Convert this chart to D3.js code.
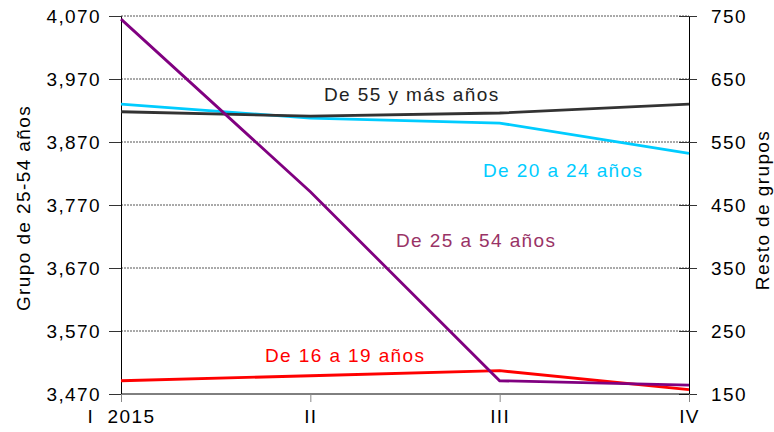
<!DOCTYPE html>
<html><head><meta charset="utf-8">
<script src="https://cdn.jsdelivr.net/npm/d3@7"></script>
<style>
body{margin:0;background:#fff;}
text{font-family:"Liberation Sans",Arial,sans-serif;}
</style></head>
<body><svg id="c" width="774" height="432"></svg>
<script>
const categories = ["I  2015","II","III","IV"];
const leftTicks = [3470,3570,3670,3770,3870,3970,4070];
const rightTicks = [150,250,350,450,550,650,750];
const s25_54 = [4065,3791,3491,3484];
const s55 = [598,591,596,610];
const s20_24 = [610,588,580,532];
const s16_19 = [171,179,187,157];

const svg = d3.select("#c");
const m = {l:121, r:689, t:16, b:394};
const x = d3.scalePoint().domain(categories).range([m.l, m.r]);
const yL = d3.scaleLinear().domain([3470,4070]).range([m.b, m.t]);
const yR = d3.scaleLinear().domain([150,750]).range([m.b, m.t]);
const fs = 19, ls = "1.4px";

// grid
svg.append("g").selectAll("line").data(leftTicks.slice(1)).join("line")
  .attr("x1", m.l).attr("x2", m.r).attr("y1", d=>yL(d)).attr("y2", d=>yL(d))
  .attr("stroke","#555").attr("stroke-width",1).attr("stroke-dasharray","2,1");

// left axis
const gL = svg.append("g").attr("transform",`translate(${m.l},0)`)
  .call(d3.axisLeft(yL).tickValues(leftTicks).tickFormat(d3.format(",")).tickSize(12).tickPadding(8));
gL.selectAll("text").attr("font-size",fs).attr("letter-spacing",ls).attr("fill","#000").attr("font-family","Liberation Sans, Arial, sans-serif");
gL.select(".domain").attr("stroke","#000");
gL.selectAll(".tick line").attr("stroke","#333");

// right axis
const gR = svg.append("g").attr("transform",`translate(${m.r},0)`)
  .call(d3.axisRight(yR).tickValues(rightTicks).tickSize(8).tickPadding(14));
gR.selectAll("text").attr("font-size",fs).attr("letter-spacing",ls).attr("fill","#000").attr("font-family","Liberation Sans, Arial, sans-serif");
gR.select(".domain").attr("stroke","#000");
gR.selectAll(".tick line").attr("stroke","#333");
gR.selectAll(".tick line").attr("x1",-10);

// bottom axis
const gB = svg.append("g").attr("transform",`translate(0,${m.b})`)
  .call(d3.axisBottom(x).tickSize(8).tickPadding(8));
gB.select(".domain").attr("stroke","#000").attr("d",`M${m.l},0H${m.r}`);
gB.selectAll(".tick line").attr("stroke","#888");
gB.selectAll("text").attr("font-size",fs).attr("letter-spacing",ls).attr("fill","#000")
  .attr("font-family","Liberation Sans, Arial, sans-serif").style("white-space","pre");

// axis titles
svg.append("text").attr("transform","translate(30,208) rotate(-90)").attr("text-anchor","middle")
  .attr("font-size",fs).attr("letter-spacing",ls).text("Grupo de 25-54 años");
svg.append("text").attr("transform","translate(769,210) rotate(-90)").attr("text-anchor","middle")
  .attr("font-size",fs).attr("letter-spacing",ls).text("Resto de grupos");

// lines
const lineL = d3.line().x((d,i)=>x(categories[i])).y(d=>yL(d));
const lineR = d3.line().x((d,i)=>x(categories[i])).y(d=>yR(d));
const series = [
  {v:s16_19, c:"#ff0000", f:lineR},
  {v:s20_24, c:"#00ccff", f:lineR},
  {v:s55, c:"#333333", f:lineR},
  {v:s25_54, c:"#800080", f:lineL}
];
series.forEach(s=>svg.append("path").attr("d",s.f(s.v)).attr("fill","none")
  .attr("stroke",s.c).attr("stroke-width",2.8));

// labels
const labels = [
  {t:"De 55 y más años", x:324, y:101, c:"#222"},
  {t:"De 20 a 24 años", x:483, y:177, c:"#00ccff"},
  {t:"De 25 a 54 años", x:396, y:247, c:"#993366"},
  {t:"De 16 a 19 años", x:265, y:362, c:"#ff0000"}
];
svg.append("g").selectAll("text").data(labels).join("text")
  .attr("x",d=>d.x).attr("y",d=>d.y).attr("fill",d=>d.c)
  .attr("font-size",fs).attr("letter-spacing",ls).text(d=>d.t);
</script></body></html>
